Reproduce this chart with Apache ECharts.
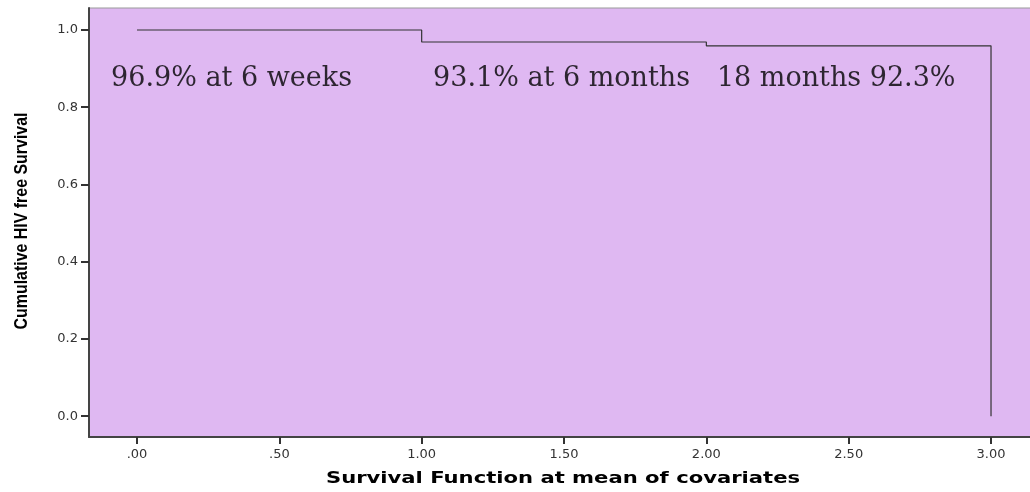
<!DOCTYPE html>
<html>
<head>
<meta charset="utf-8">
<script src="https://cdn.jsdelivr.net/npm/echarts@6/dist/echarts.min.js"></script>
<style>html,body{margin:0;padding:0;background:#fff;}#c{width:1030px;height:492px;}</style>
</head>
<body>
<div id="c"></div>
<script>
// Data
const times = [0, 1, 2, 3];
const survival = [1.0, 0.969, 0.959, 0.0];
const xTicks = [0, 0.5, 1, 1.5, 2, 2.5, 3];
const xTickLabels = ['.00', '.50', '1.00', '1.50', '2.00', '2.50', '3.00'];
const yTicks = [0, 0.2, 0.4, 0.6, 0.8, 1.0];
const yTickLabels = ['0.0', '0.2', '0.4', '0.6', '0.8', '1.0'];
const annotationTexts = ['96.9% at 6 weeks', '93.1% at 6 months', '18 months 92.3%'];
const annotationX = [-0.091, 1.04, 2.037];
const annotationY = [0.873, 0.873, 0.873];
const xTitle = 'Survival Function at mean of covariates';
const yTitle = 'Cumulative HIV free Survival';

const chart = echarts.init(document.getElementById('c'));
const tickFont = {fontFamily: 'DejaVu Sans', fontSize: 13, color: '#333'};
chart.setOption({
  animation: false,
  grid: {left: 89, right: -5, top: 8, bottom: 55, outerBoundsMode: 'none', containLabel: false,
    show: true, backgroundColor: '#DFB8F2', borderColor: '#999', borderWidth: 1},
  xAxis: {
    type: 'value', min: -0.1686, max: 3.1545,
    splitLine: {show: false},
    axisLine: {show: true, onZero: false, lineStyle: {color: '#444', width: 2}},
    axisTick: {show: true, customValues: xTicks, length: 7, lineStyle: {color: '#333', width: 2}},
    axisLabel: Object.assign({customValues: xTicks, margin: 11,
      formatter: v => xTickLabels[xTicks.indexOf(Math.round(v*100)/100)]}, tickFont)
  },
  yAxis: {
    type: 'value', min: -0.054, max: 1.057,
    splitLine: {show: false},
    axisLine: {show: true, onZero: false, lineStyle: {color: '#444', width: 2}},
    axisTick: {show: true, customValues: yTicks, length: 8, lineStyle: {color: '#333', width: 2}},
    axisLabel: Object.assign({customValues: yTicks, margin: 11,
      formatter: v => yTickLabels[yTicks.indexOf(Math.round(v*10)/10)]}, tickFont)
  },
  graphic: [
    {type: 'text', x: 563, y: 479, scaleX: 1.32, silent: true,
      style: {text: xTitle, font: 'bold 16px "DejaVu Sans"', fill: '#000', textAlign: 'center', textVerticalAlign: 'middle'}},
    {type: 'text', x: 22, y: 221, rotation: Math.PI / 2, scaleX: 0.885, silent: true,
      style: {text: yTitle, font: 'bold 18px "Liberation Sans"', fill: '#000', textAlign: 'center', textVerticalAlign: 'middle'}}
  ],
  series: [
    {
      type: 'line', step: 'end', symbol: 'none',
      data: times.map((t, i) => [t, survival[i]]),
      lineStyle: {color: '#333', width: 1.2}
    },
    {
      type: 'scatter', symbolSize: 0,
      data: annotationTexts.map((t, i) => ({value: [annotationX[i], annotationY[i]], name: t})),
      label: {show: true, position: [0, 0], align: 'left', verticalAlign: 'middle',
        formatter: p => p.name, fontFamily: 'DejaVu Serif', fontSize: 27, color: '#000'},
      silent: true
    }
  ]
});
</script>
</body>
</html>
